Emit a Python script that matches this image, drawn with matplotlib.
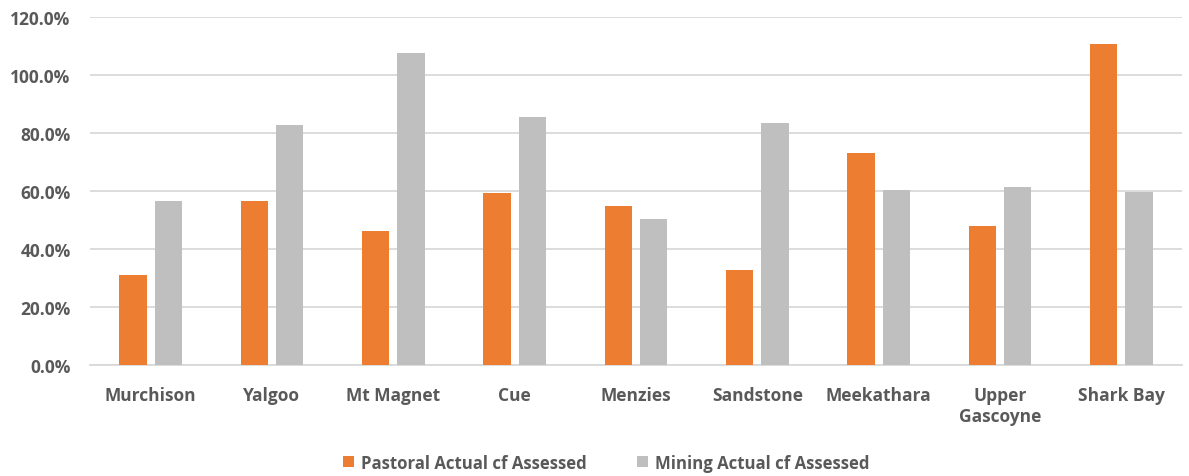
import matplotlib
matplotlib.use("Agg")
import matplotlib.pyplot as plt
import numpy as np
from matplotlib.ticker import FuncFormatter

categories = ["Murchison", "Yalgoo", "Mt Magnet", "Cue", "Menzies", "Sandstone",
              "Meekathara", "Upper\nGascoyne", "Shark Bay"]
pastoral = [31.0, 56.6, 46.2, 59.3, 54.8, 32.8, 73.1, 47.9, 110.7]
mining = [56.6, 82.8, 107.6, 85.5, 50.3, 83.4, 60.3, 61.4, 59.7]
series_names = ["Pastoral Actual cf Assessed", "Mining Actual cf Assessed"]

plt.rcParams['font.family'] = ['Open Sans', 'DejaVu Sans']
txt = "#595959"
fs = 12.5

fig = plt.figure(figsize=(11.89, 4.77), dpi=100)
ax = fig.add_axes([0.0757, 0.2327, 0.9183, 0.7293])

x = np.arange(len(categories))
w = 0.225
gap = 0.066
ax.bar(x - (w + gap) / 2, pastoral, w, color="#ed7d31", label=series_names[0], zorder=3)
ax.bar(x + (w + gap) / 2, mining, w, color="#bfbfbf", label=series_names[1], zorder=3)

ax.set_ylim(0, 120)
ax.set_xlim(-0.5, len(categories) - 0.5)
ax.set_yticks(np.arange(0, 121, 20))
ax.yaxis.set_major_formatter(FuncFormatter(lambda v, p: f"{v:.1f}%"))
ax.grid(axis="y", color="#d9d9d9", linewidth=1.3, zorder=0)
for s in ["top", "right", "left"]:
    ax.spines[s].set_visible(False)
ax.spines["bottom"].set_color("#d9d9d9")
ax.spines["bottom"].set_linewidth(1.3)
ax.tick_params(axis="both", length=0, colors=txt, labelsize=fs)
ax.tick_params(axis="y", pad=14)
ax.tick_params(axis="x", pad=15)
ax.set_xticks(x)
ax.set_xticklabels(categories, fontweight="bold", color=txt, linespacing=1.25)
for lab in ax.get_yticklabels():
    lab.set_fontweight("bold")

leg = fig.legend(loc="center", bbox_to_anchor=(0.51, 0.028), ncol=2, frameon=False,
                 handlelength=0.65, handleheight=0.65, handletextpad=0.4,
                 columnspacing=3.0, prop={"weight": "bold", "size": 12.1})
for t in leg.get_texts():
    t.set_color(txt)

fig.savefig("out.png", dpi=100)
